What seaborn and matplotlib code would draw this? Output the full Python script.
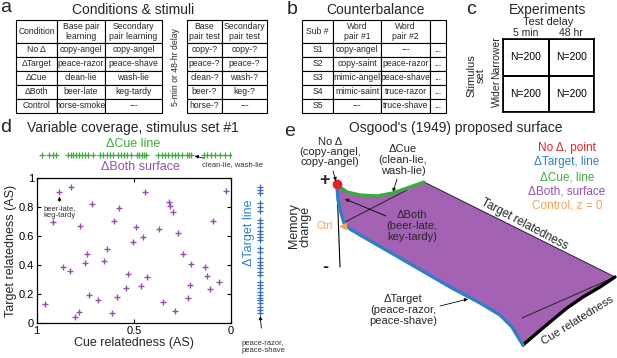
import numpy as np
import pandas as pd
import matplotlib
matplotlib.use("Agg")
import matplotlib.pyplot as plt
import seaborn as sns
from matplotlib.colors import ListedColormap
from matplotlib.patches import Polygon

# ---- panel a: conditions & stimuli
conditions = ["No Δ", "ΔTarget", "ΔCue", "ΔBoth", "Control"]
base_learning = ["copy-angel", "peace-razor", "clean-lie", "beer-late", "horse-smoke"]
secondary_learning = ["copy-angel", "peace-shave", "wash-lie", "keg-tardy", "---"]
base_test = ["copy-?", "peace-?", "clean-?", "beer-?", "horse-?"]
secondary_test = ["copy-?", "peace-?", "wash-?", "keg-?", "---"]

# ---- panel b: counterbalance
subjects = ["S1", "S2", "S3", "S4", "S5"]
word_pair_1 = ["copy-angel", "copy-saint", "mimic-angel", "mimic-saint", "---"]
word_pair_2 = ["---", "peace-razor", "peace-shave", "truce-razor", "truce-shave"]

# ---- panel c: experiments
test_delays = ["5 min", "48 hr"]
stimulus_sets = ["Narrower", "Wider"]
n_subjects = [[200, 200], [200, 200]]

# ---- panel d: variable coverage (AS values)
both_cue = [0.883, 0.823, 0.914, 0.714, 0.777, 0.576, 0.604, 0.443, 0.491, 0.503,
            0.451, 0.317, 0.316, 0.298, 0.024, 0.094, 0.369, 0.271, 0.249, 0.204,
            0.136, 0.122, 0.106, 0.060, 0.211, 0.220, 0.290, 0.348, 0.434, 0.465,
            0.528, 0.542, 0.585, 0.611, 0.638, 0.654, 0.739, 0.753, 0.731, 0.686,
            0.780, 0.801, 0.863, 0.830, 0.959]
both_target = [0.903, 0.938, 0.697, 0.821, 0.671, 0.793, 0.706, 0.903, 0.662, 0.563,
               0.598, 0.839, 0.811, 0.770, 0.915, 0.708, 0.648, 0.623, 0.478, 0.407,
               0.391, 0.326, 0.234, 0.287, 0.264, 0.172, 0.087, 0.149, 0.322, 0.260,
               0.338, 0.244, 0.184, 0.069, 0.510, 0.430, 0.476, 0.414, 0.193, 0.161,
               0.080, 0.046, 0.386, 0.361, 0.133]
cue_line = [0.974, 0.935, 0.918, 0.901, 0.837, 0.823, 0.811, 0.798, 0.784, 0.768,
            0.751, 0.734, 0.708, 0.674, 0.657, 0.640, 0.623, 0.605, 0.580, 0.568,
            0.551, 0.537, 0.516, 0.485, 0.472, 0.460, 0.448, 0.437, 0.374, 0.357,
            0.340, 0.322, 0.305, 0.288, 0.271, 0.254, 0.228, 0.218, 0.208, 0.139,
            0.122, 0.105, 0.082, 0.057, 0.031, 0.005]
target_line = [0.943, 0.920, 0.897, 0.828, 0.805, 0.777, 0.713, 0.690, 0.662, 0.639,
               0.616, 0.593, 0.575, 0.517, 0.494, 0.448, 0.425, 0.402, 0.379, 0.356,
               0.333, 0.287, 0.264, 0.241, 0.218, 0.195, 0.172, 0.161, 0.138, 0.115,
               0.092, 0.069]
x_ticks = [1, 0.5, 0]
x_tick_labels = ["1", "0.5", "0"]
y_ticks = [0, 0.2, 0.4, 0.6, 0.8, 1]
y_tick_labels = ["0", "0.2", "0.4", "0.6", "0.8", "1"]

# ---- panel e: schematic surface outline (figure pixels)
cue_edge_x = [337, 347, 360, 377, 393, 410, 424]
cue_edge_y = [185, 192, 195, 196, 193, 187, 182]
far_edge_x = [615, 600, 583, 567, 550, 537, 523]
far_edge_y = [277, 287, 297, 308, 322, 333, 345]
target_edge_x = [337, 338, 341, 344, 350, 360, 400, 450, 480, 500, 512, 518, 523]
target_edge_y = [187, 200, 213, 223, 229, 235, 258, 287, 303, 315, 327, 337, 345]
legend_items = ["No Δ, point", "ΔTarget, line", "ΔCue, line", "ΔBoth, surface", "Control, z = 0"]

RED = "#e3232c"
BLUE = "#2f7fc6"
GREEN = "#3caa3c"
PURPLE = "#9450aa"
SURF = "#a462b4"
ORANGE = "#f2a35e"
legend_colors = [RED, BLUE, GREEN, PURPLE, ORANGE]

sns.set_theme(style="ticks")
plt.rcParams["font.family"] = ["Liberation Sans", "DejaVu Sans"]

W, H = 617, 358
fig = plt.figure(figsize=(W / 100, H / 100), dpi=100)


def rect(x0, y0, x1, y1):
    return [x0 / W, 1 - y1 / H, (x1 - x0) / W, (y1 - y0) / H]


ov = fig.add_axes([0, 0, 1, 1], zorder=5)
ov.set_xlim(0, W)
ov.set_ylim(H, 0)
ov.axis("off")
ov.patch.set_alpha(0)


def draw_table(cells, cols, top, header_h=23, row_h=14, fs=6):
    widths = np.diff(cols)
    bottom = top + header_h + row_h * (len(cells) - 1)
    tb = ov.table(cellText=cells, cellLoc="center",
                  colWidths=list(widths / widths.sum()),
                  bbox=rect(cols[0], top, cols[-1], bottom))
    tb.auto_set_font_size(False)
    tb.set_fontsize(fs)
    for (r, c), cell in tb.get_celld().items():
        cell.set_height(header_h if r == 0 else row_h)
        cell.set_linewidth(0.8)
        cell.set_edgecolor("black")
        cell.PAD = 0.02
    return tb


# ---------- a
ov.text(6, 8, "a", fontsize=14, ha="center", va="center")
ov.text(133, 10, "Conditions & stimuli", fontsize=10, ha="center", va="center")
rows_a1 = [["Condition", "Base pair\nlearning", "Secondary\npair learning"]]
rows_a1 += [list(r) for r in zip(conditions, base_learning, secondary_learning)]
draw_table(rows_a1, [16, 57, 105, 162], 20, fs=6.2)
rows_a2 = [["Base\npair test", "Secondary\npair test"]]
rows_a2 += [list(r) for r in zip(base_test, secondary_test)]
draw_table(rows_a2, [187, 222, 267], 20, fs=6.2)
ov.text(175, 67, "5-min or 48-hr delay", fontsize=6.2, rotation=90, ha="center", va="center")

# ---------- b
ov.text(292, 9, "b", fontsize=14, ha="center", va="center")
ov.text(375, 10, "Counterbalance", fontsize=10, ha="center", va="center")
rows_b = [["Sub #", "Word\npair #1", "Word\npair #2", ""]]
rows_b += [[s, p1, p2, "..."] for s, p1, p2 in zip(subjects, word_pair_1, word_pair_2)]
draw_table(rows_b, [302, 333, 381, 430, 446], 20, fs=6.2)

# ---------- c
ov.text(471, 10, "c", fontsize=14, ha="center", va="center")
ov.text(548, 10, "Experiments", fontsize=10, ha="center", va="center")
ov.text(548, 22, "Test delay", fontsize=8, ha="center", va="center")
ax_c = fig.add_axes(rect(503, 39, 594, 112))
df_c = pd.DataFrame(n_subjects, index=stimulus_sets, columns=test_delays)
labels_c = df_c.map(lambda v: f"N={v}").values
sns.heatmap(df_c, annot=labels_c, fmt="", cmap=ListedColormap(["white"]), cbar=False,
            linewidths=1.2, linecolor="black", ax=ax_c,
            annot_kws={"size": 7.5, "color": "black"})
ax_c.xaxis.tick_top()
ax_c.tick_params(length=0, labelsize=7.5, pad=1)
ax_c.set_yticklabels(stimulus_sets, rotation=90, va="center")
ax_c.set_xlabel("")
ax_c.set_ylabel("Stimulus\nset", fontsize=8, labelpad=4, linespacing=0.9)
for sp in ax_c.spines.values():
    sp.set_visible(True)
    sp.set_linewidth(1.2)
    sp.set_color("black")

# ---------- d
ov.text(6, 128, "d", fontsize=14, ha="center", va="center")
ov.text(133, 128, "Variable coverage, stimulus set #1", fontsize=10, ha="center", va="center")
ov.text(133, 144, "ΔCue line", fontsize=9, color=GREEN, ha="center", va="center")
ov.text(140, 167, "ΔBoth surface", fontsize=9, color=PURPLE, ha="center", va="center")

ax_d = fig.add_axes(rect(36.7, 178.3, 231, 323.3))
sns.scatterplot(x=both_cue, y=both_target, marker="+", s=22, color=PURPLE,
                linewidth=1, ax=ax_d, legend=False)
ax_d.set_xlim(1, 0)
ax_d.set_ylim(0, 1)
ax_d.set_xticks(x_ticks)
ax_d.set_xticklabels(x_tick_labels)
ax_d.set_yticks(y_ticks)
ax_d.set_yticklabels(y_tick_labels)
ax_d.tick_params(direction="in", top=True, right=True, length=3, width=0.8,
                 labelsize=8, pad=2, colors="black")
for sp in ax_d.spines.values():
    sp.set_linewidth(0.9)
    sp.set_color("black")
ax_d.set_xlabel("Cue relatedness (AS)", fontsize=9, labelpad=1)
ax_d.set_ylabel("Target relatedness (AS)", fontsize=9, labelpad=1)
ax_d.annotate("beer-late,\nkeg-tardy", xy=(both_cue[0], both_target[0]),
              xytext=(0, -14), textcoords="offset points", ha="center", va="center",
              fontsize=5.5, color="#333333", linespacing=1.0,
              arrowprops=dict(arrowstyle="-|>", lw=0.6, color="black", mutation_scale=5,
                              shrinkA=0, shrinkB=3))

ax_cue = fig.add_axes(rect(36.7, 150, 231, 160), sharex=ax_d)
sns.scatterplot(x=cue_line, y=[0] * len(cue_line), marker="+", s=16, color=GREEN,
                linewidth=0.9, ax=ax_cue, legend=False)
ax_cue.set_ylim(-1, 1)
ax_cue.axis("off")
ax_cue.annotate("clean-lie, wash-lie", xy=(cue_line[38], 0), xytext=(202, 165),
                textcoords=ov.transData, ha="left", va="center", fontsize=5.5,
                color="#333333",
                arrowprops=dict(arrowstyle="-|>", lw=0.6, color="black", mutation_scale=5,
                                shrinkA=0, shrinkB=3))

ax_tgt = fig.add_axes(rect(255, 178.3, 265, 323.3), sharey=ax_d)
sns.scatterplot(x=[0] * len(target_line), y=target_line, marker="+", s=16, color="#3a6db4",
                linewidth=0.9, ax=ax_tgt, legend=False)
ax_tgt.set_xlim(-1, 1)
ax_tgt.axis("off")
ax_d.set_xlim(1, 0)
ax_d.set_ylim(0, 1)
ov.text(249, 233, "ΔTarget line", fontsize=9, color=BLUE, rotation=90, ha="center", va="center")
ax_tgt.annotate("peace-razor,\npeace-shave", xy=(0, target_line[-1]), xytext=(263, 347),
                textcoords=ov.transData, ha="center", va="center", fontsize=5.5,
                color="#333333", linespacing=1.1,
                arrowprops=dict(arrowstyle="-|>", lw=0.6, color="black", mutation_scale=5,
                                shrinkA=6, shrinkB=2))

# ---------- e
ov.text(290, 132, "e", fontsize=14, ha="center", va="center")
ov.text(456, 128, "Osgood's (1949) proposed surface", fontsize=10, ha="center", va="center")

# z axis
ov.plot([337, 340], [185, 267], color="black", lw=0.8, zorder=1)
surf_x = cue_edge_x + far_edge_x + target_edge_x[::-1]
surf_y = cue_edge_y + far_edge_y + target_edge_y[::-1]
ov.add_patch(Polygon(np.column_stack([surf_x, surf_y]), closed=True, facecolor=SURF,
                     edgecolor="none", zorder=2))
ov.plot([cue_edge_x[-1], far_edge_x[0]], [cue_edge_y[-1], far_edge_y[0]],
        color="#222222", lw=0.7, zorder=3)
ov.plot([345, 407], [222, 190], color="#222222", lw=0.7, zorder=3)
ov.plot([522, 615], [318, 277], color="#222222", lw=0.7, zorder=3)
ov.plot(far_edge_x, far_edge_y, color="black", lw=2.4, zorder=4, solid_capstyle="round")
ov.plot(target_edge_x, target_edge_y, color=BLUE, lw=2.4, zorder=4, solid_capstyle="round")
ov.plot(cue_edge_x, cue_edge_y, color=GREEN, lw=2.4, zorder=4, solid_capstyle="round")
ov.plot([cue_edge_x[0]], [cue_edge_y[0] - 1], marker="o", ms=6, color=RED, zorder=6)
ov.plot([343], [226], marker="<", ms=4.5, color=ORANGE, zorder=6)

ov.text(325, 180, "+", fontsize=13, fontweight="bold", ha="center", va="center")
ov.text(325, 268, "-", fontsize=13, fontweight="bold", ha="center", va="center")
ov.text(300, 226, "Memory\nchange", fontsize=9, rotation=90, ha="center", va="center",
        linespacing=1.0)
ov.text(325, 226, "Ctrl", fontsize=7.5, color=ORANGE, ha="center", va="center")

arrow = dict(arrowstyle="-|>", lw=0.6, color="black", mutation_scale=5, shrinkA=0, shrinkB=0)
ov.text(330, 152, "No Δ\n(copy-angel,\ncopy-angel)", ha="center", va="center",
        fontsize=8, linespacing=1.0, zorder=7)
ov.annotate("", xy=(336, 181), xytext=(333, 171), arrowprops=arrow, zorder=7)
ov.text(403, 160, "ΔCue\n(clean-lie,\nwash-lie)", ha="center", va="center", fontsize=8,
        linespacing=1.1)
ov.annotate("", xy=(393, 192), xytext=(397, 179), arrowprops=arrow)
ov.text(412, 226, "ΔBoth\n(beer-late,\nkey-tardy)", ha="center", va="center", fontsize=8,
        linespacing=1.1, zorder=7)
ov.annotate("", xy=(345, 199), xytext=(386, 216), arrowprops=arrow, zorder=7)
ov.text(403, 310, "ΔTarget\n(peace-razor,\npeace-shave)", ha="center", va="center",
        fontsize=8, linespacing=1.1)
ov.annotate("", xy=(468, 299), xytext=(440, 306), arrowprops=arrow)
ov.text(524, 224, "Target relatedness", fontsize=8.5, rotation=-28, ha="center", va="center",
        rotation_mode="anchor", zorder=7)
ov.text(578, 320, "Cue relatedness", fontsize=8.2, rotation=32, ha="center", va="center",
        rotation_mode="anchor", zorder=7)
for i, (txt, col) in enumerate(zip(legend_items, legend_colors)):
    ov.text(567, 148 + 14.5 * i, txt, fontsize=8.5, color=col, ha="center", va="center")

fig.savefig("out.png", dpi=100)
